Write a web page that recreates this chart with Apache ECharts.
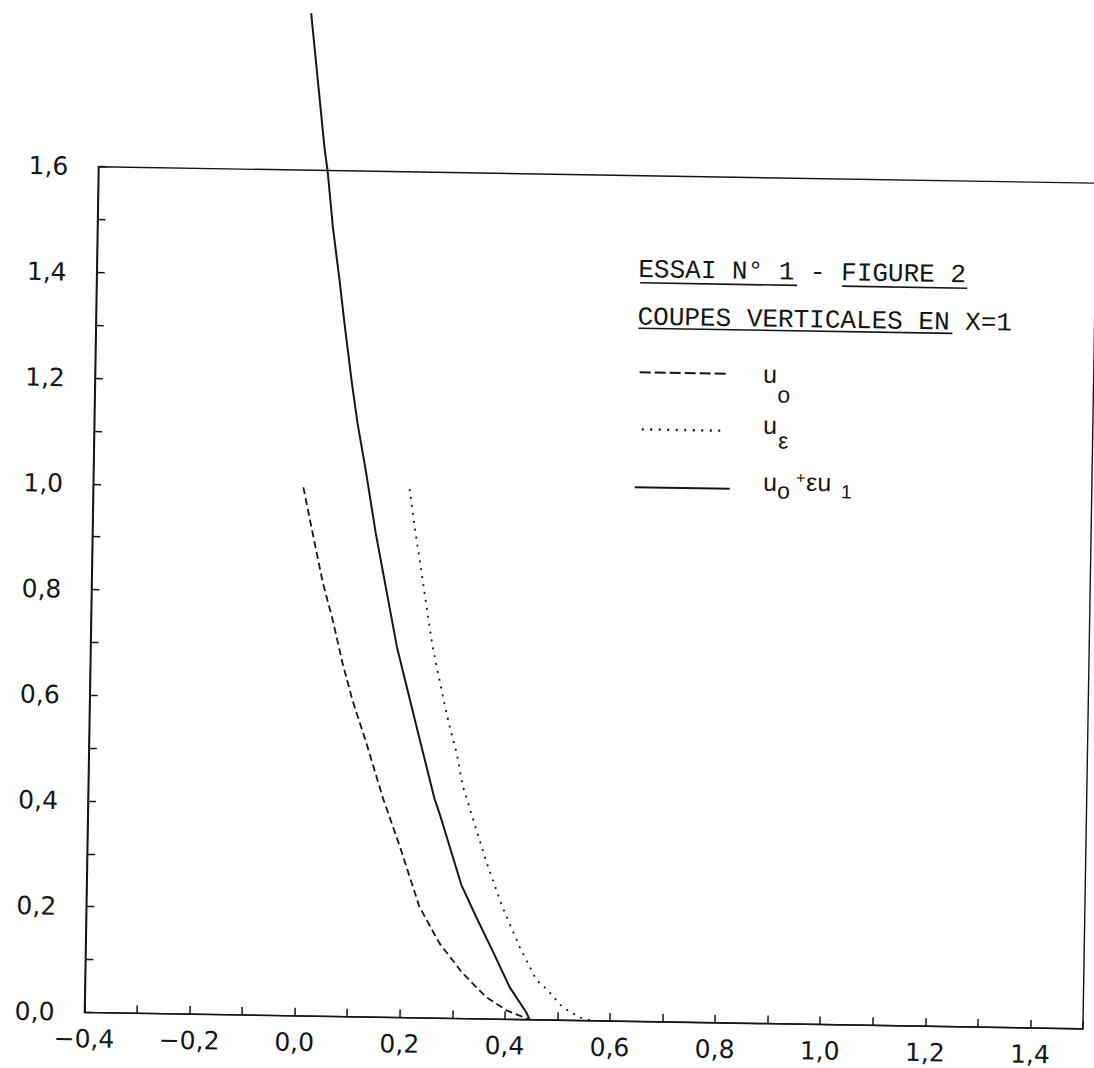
<!DOCTYPE html>
<html>
<head>
<meta charset="utf-8">
<script src="https://cdn.jsdelivr.net/npm/echarts@6/dist/echarts.min.js"></script>
<style>
html, body { margin: 0; padding: 0; background: #fff; overflow: hidden; }
/* the scanned sheet is slightly skewed, so the whole chart is turned a little */
#main { width: 1094px; height: 1068px; transform: rotate(0.945deg); transform-origin: 547px 534px; }
</style>
</head>
<body>
<div id="main"></div>
<script>
// u_o  (dashed)
var uZero = [[0.000,1.000],[0.019,0.914],[0.040,0.820],[0.060,0.750],[0.080,0.669],[0.100,0.599],
  [0.128,0.518],[0.161,0.415],[0.195,0.323],[0.234,0.210],[0.273,0.142],[0.318,0.086],
  [0.364,0.041],[0.403,0.017],[0.434,0.005],[0.445,0.000]];
// u_eps  (dotted)
var uEps = [[0.202,1.000],[0.213,0.928],[0.230,0.828],[0.240,0.766],[0.251,0.702],[0.265,0.640],
  [0.275,0.596],[0.286,0.551],[0.300,0.502],[0.312,0.442],[0.340,0.357],[0.360,0.297],
  [0.392,0.212],[0.426,0.137],[0.459,0.075],[0.480,0.057],[0.509,0.025],[0.542,0.006],[0.565,0.000]];
// u_o + eps u_1  (solid)
var uSum = [[0.000,1.897],[0.030,1.639],[0.036,1.601],[0.048,1.493],[0.063,1.388],[0.073,1.312],
  [0.089,1.199],[0.101,1.123],[0.118,1.035],[0.139,0.916],[0.183,0.701],[0.223,0.550],
  [0.259,0.416],[0.269,0.388],[0.313,0.253],[0.342,0.193],[0.375,0.128],[0.408,0.061],
  [0.441,0.013],[0.447,0.000]];

var xTicks = [-0.4,-0.2,0.0,0.2,0.4,0.6,0.8,1.0,1.2,1.4];
var xTickLabels = ['−0,4','−0,2','0,0','0,2','0,4','0,6','0,8','1,0','1,2','1,4'];
var yTicks = [0.0,0.2,0.4,0.6,0.8,1.0,1.2,1.4,1.6];
var yTickLabels = ['0,0','0,2','0,4','0,6','0,8','1,0','1,2','1,4','1,6'];

function pick(ticks, labels) {
  return function (v) {
    for (var i = 0; i < ticks.length; i++) {
      if (Math.abs(ticks[i] - v) < 1e-6) return labels[i];
    }
    return '';
  };
}

var ink = '#161616';
var mono = '"Liberation Mono", "DejaVu Sans Mono", monospace';
var sans = '"Liberation Sans", Arial, sans-serif';

// text placed by its baseline
function txt(s, x, base, size, family) {
  return {
    type: 'text', x: x, y: base - 0.33 * size, silent: true,
    style: { text: s, font: size + 'px ' + family, fill: ink, verticalAlign: 'middle', align: 'left' }
  };
}
function rule(x1, x2, y, dash, w) {
  return {
    type: 'line', silent: true,
    shape: { x1: x1, y1: y, x2: x2, y2: y },
    style: { stroke: ink, lineWidth: w || 1.6, lineDash: dash || null }
  };
}

var myChart = echarts.init(document.getElementById('main'), null, { renderer: 'svg' });
myChart.setOption({
  animation: false,
  backgroundColor: '#fff',
  grid: {
    left: 92.4, top: 174.2, right: 1.8, bottom: 48.1,
    show: true, borderColor: ink, borderWidth: 1.4, backgroundColor: 'transparent'
  },
  xAxis: {
    type: 'value', min: -0.4, max: 1.5, interval: 0.2,
    splitLine: { show: false },
    axisLine: { onZero: false, lineStyle: { color: ink, width: 1.5 } },
    axisTick: { inside: true, length: 8, lineStyle: { color: ink, width: 1.5 } },
    minorTick: { show: true, splitNumber: 2, length: 8, lineStyle: { color: ink, width: 1.5 } },
    axisLabel: {
      formatter: pick(xTicks, xTickLabels), margin: 14,
      color: ink, fontSize: 25, fontFamily: '"DejaVu Sans", sans-serif'
    }
  },
  yAxis: {
    type: 'value', min: 0, max: 1.6, interval: 0.2,
    splitLine: { show: false },
    axisLine: { onZero: false, lineStyle: { color: ink, width: 1.5 } },
    axisTick: { inside: true, length: 8, lineStyle: { color: ink, width: 1.5 } },
    minorTick: { show: true, splitNumber: 2, length: 8, lineStyle: { color: ink, width: 1.5 } },
    axisLabel: {
      formatter: pick(yTicks, yTickLabels), margin: 30,
      color: ink, fontSize: 25, fontFamily: '"DejaVu Sans", sans-serif'
    }
  },
  series: [
    {
      name: 'u0', type: 'line', data: uZero, showSymbol: false, clip: false,
      smooth: false,
      lineStyle: { color: ink, width: 1.8, type: [7, 4] }
    },
    {
      name: 'ueps', type: 'line', data: uEps, showSymbol: false, clip: false,
      smooth: false,
      lineStyle: { color: ink, width: 1.8, type: [2, 6] }
    },
    {
      name: 'u0+eps u1', type: 'line', data: uSum, showSymbol: false, clip: false,
      smooth: false,
      lineStyle: { color: ink, width: 2 }
    }
  ],
  graphic: [
    txt('ESSAI N° 1 - FIGURE 2', 634, 277, 26, mono),
    rule(636, 793, 281.3),
    rule(838, 963, 281.3),
    txt('COUPES VERTICALES EN X=1', 634, 324.5, 26, mono),
    rule(635, 949, 326.7),

    rule(637, 725, 370.8, [11, 4], 2),
    txt('u', 760.5, 378.4, 25, sans),
    txt('o', 775, 398.2, 23, sans),

    rule(640, 723, 427.8, [2, 6.5], 2.4),
    txt('u', 761.3, 429.4, 25, sans),
    txt('ε', 776.6, 444.2, 23, sans),

    rule(634, 729, 485.8, null, 2),
    txt('u', 762.3, 486.4, 25, sans),
    txt('o', 776.4, 494.2, 23, sans),
    txt('+', 795.2, 478.9, 16, sans),
    txt('εu', 805.3, 485.7, 25, sans),
    txt('1', 840.4, 493.2, 19, sans)
  ]
});
</script>
</body>
</html>
